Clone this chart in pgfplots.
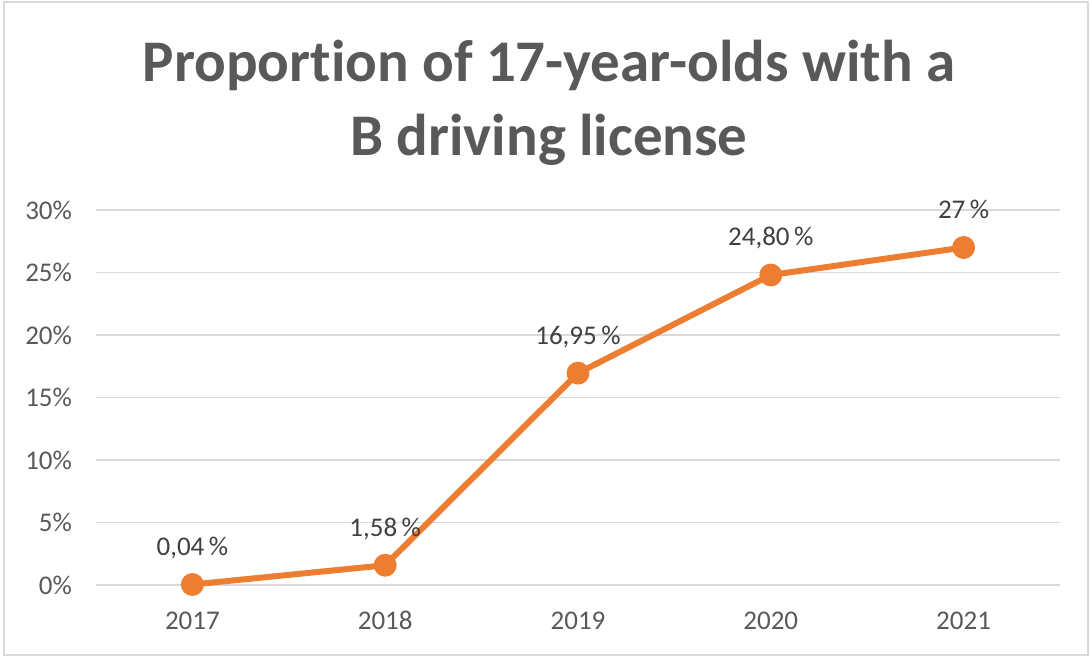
\documentclass[border=0pt]{standalone}
\usepackage{fontspec}
\setmainfont{Carlito}[Ligatures=CommonOff]
\usepackage{pgfplots}
\pgfplotsset{compat=1.18}
\definecolor{txtgray}{HTML}{595959}
\definecolor{lblgray}{HTML}{404040}
\definecolor{gridgray}{HTML}{D9D9D9}
\definecolor{lineorange}{HTML}{ED7D31}
\begin{document}
\begin{tikzpicture}
% 1 px of the reference = 0.5pt
\path (-48pt,-36.5pt) rectangle (497.5pt,292.5pt);
\draw[gridgray, line width=1pt] (-46pt,-35pt) rectangle (496pt,291.5pt);
\begin{axis}[
    scale only axis,
    width=482pt,
    height=187.5pt,
    xmin=-0.5, xmax=4.5,
    ymin=0, ymax=30,
    axis line style={draw=none},
    ymajorgrids=true,
    grid style={gridgray, line width=0.8pt},
    xtick={0,1,2,3,4},
    xticklabels={2017,2018,2019,2020,2021},
    ytick={0,5,10,15,20,25,30},
    yticklabel={\pgfmathprintnumber{\tick}\%},
    major tick length=0pt,
    ticklabel style={font=\fontsize{13.5}{16}\selectfont, text=txtgray},
    xticklabel style={anchor=base, yshift=-22pt},
    yticklabel style={anchor=east, xshift=-8.5pt},
    /pgf/number format/assume math mode=true,
    clip=false,
]
\addplot[lineorange, line width=3pt, mark=*, mark size=4.2pt,
    mark options={fill=lineorange, draw=lineorange},
    point meta=explicit symbolic,
    nodes near coords,
    nodes near coords style={anchor=base, yshift=14.5pt, inner sep=0pt,
        font=\fontsize{13.5}{16}\selectfont, text=lblgray}]
    coordinates {
    (0,0.04) [0,04\,\%]
    (1,1.58) [1,58\,\%]
    (2,16.95) [16,95\,\%]
    (3,24.80) [24,80\,\%]
    (4,27) [27\,\%]
};
\end{axis}
\node[anchor=base, text=txtgray, font=\fontsize{29.5}{35}\selectfont\bfseries, inner sep=0pt]
    at (226.5pt,251.5pt) {Proportion of 17-year-olds with a};
\node[anchor=base, text=txtgray, font=\fontsize{29.5}{35}\selectfont\bfseries, inner sep=0pt]
    at (226.5pt,214.5pt) {B driving license};
\end{tikzpicture}
\end{document}
